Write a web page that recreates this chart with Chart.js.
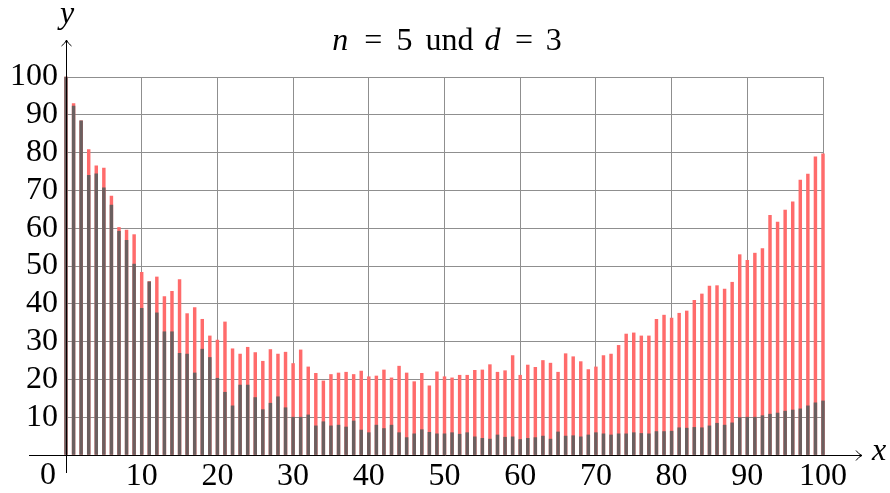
<!DOCTYPE html>
<html>
<head>
<meta charset="utf-8">
<script src="https://cdn.jsdelivr.net/npm/chart.js@4/dist/chart.umd.min.js"></script>
<style>
html,body{margin:0;padding:0;background:#fff;}
canvas{display:block;}
.pre{font-family:"Liberation Serif";position:absolute;left:-1000px;top:0;}
</style>
</head>
<body>
<span class="pre">0123 <i>nd</i></span>
<canvas id="c" width="890" height="493"></canvas>
<script>
const xValues = Array.from({length: 101}, (_, i) => i);
const redValues = [100,93.0,88.4,80.8,76.5,75.9,68.5,60.2,59.5,58.3,
48.3,45.9,47.1,41.9,43.3,46.4,37.4,39.0,35.9,31.5,
30.4,35.2,28.1,26.7,28.5,27.1,24.8,27.9,26.7,27.2,
24.2,27.8,23.3,21.6,19.6,21.3,21.7,21.9,21.3,22.2,
20.7,20.9,22.5,20.4,23.5,21.7,19.4,21.6,18.3,22.0,
20.7,20.4,21.1,21.1,22.4,22.5,23.9,21.9,22.3,26.3,
21.1,23.8,23.2,25.0,24.3,21.9,26.8,26.0,24.7,22.6,
23.3,26.3,26.7,29.0,32.0,32.3,31.5,31.5,35.9,37.0,
36.2,37.5,38.1,40.9,42.6,44.7,44.8,43.9,45.7,53.0,
51.5,53.4,54.6,63.4,61.6,64.8,67.0,72.7,74.3,78.9,
79.7];
const darkValues = [100,92.3,88.4,74.0,74.4,70.7,66.1,59.2,56.8,50.5,
38.8,45.8,37.6,32.6,32.6,26.9,26.7,21.7,28.0,25.8,
20.3,16.6,13.0,18.5,18.5,15.2,12.0,13.7,15.4,12.5,
10.0,10.0,10.6,7.7,8.8,7.7,7.9,7.4,9.0,6.6,
5.9,7.9,7.0,7.9,5.9,4.6,5.6,6.7,6.0,5.6,
5.6,5.9,5.5,5.9,4.8,4.4,4.2,5.3,4.7,4.8,
4.1,4.4,4.6,5.0,4.2,6.1,5.0,5.1,4.8,5.3,
5.9,5.6,5.3,5.6,5.6,5.9,5.7,5.6,6.2,6.2,
6.3,7.2,7.1,7.3,7.2,7.7,8.4,7.9,8.5,9.9,
10.0,10.0,10.4,10.8,11.1,11.6,11.9,12.2,13.0,13.8,
14.3];
const xTicks = [10,20,30,40,50,60,70,80,90,100];
const yTicks = [10,20,30,40,50,60,70,80,90,100];
// [text, italic, extra gap after (in em)]
const titleParts = [['n', true, 0.5], ['=', false, 0.45], ['5', false, 0.4], ['und', false, 0.35], ['d', true, 0.45], ['=', false, 0.4], ['3', false, 0]];

const FONT = "'Liberation Serif'";
const FS = 32;

const decor = {
  id: 'decor',
  afterDraw(chart) {
    const ctx = chart.ctx;
    const xs = chart.scales.x, ys = chart.scales.y;
    const x0 = Math.round(xs.getPixelForValue(0)) + 0.5;
    const y0 = Math.round(ys.getPixelForValue(0)) + 0.5;
    ctx.save();
    ctx.strokeStyle = '#000';
    ctx.lineWidth = 1;
    ctx.beginPath();
    ctx.moveTo(29, y0); ctx.lineTo(862, y0); ctx.stroke();
    ctx.beginPath();
    ctx.moveTo(856, y0 - 5); ctx.quadraticCurveTo(859, y0 - 1, 862, y0);
    ctx.quadraticCurveTo(859, y0 + 1, 856, y0 + 5); ctx.stroke();
    ctx.beginPath();
    ctx.moveTo(x0, 473); ctx.lineTo(x0, 40); ctx.stroke();
    ctx.beginPath();
    ctx.moveTo(x0 - 5, 46); ctx.quadraticCurveTo(x0 - 1, 43, x0, 40);
    ctx.quadraticCurveTo(x0 + 1, 43, x0 + 5, 46); ctx.stroke();
    ctx.fillStyle = '#000';
    ctx.textBaseline = 'middle';
    ctx.textAlign = 'center';
    ctx.font = 'italic ' + FS + 'px ' + FONT;
    ctx.fillText('y', 67, 15);
    ctx.fillText('x', 879, 452);
    ctx.font = FS + 'px ' + FONT;
    ctx.fillText('0', 48, 476);
    let total = 0;
    const widths = titleParts.map(([t, it, g]) => {
      ctx.font = (it ? 'italic ' : '') + FS + 'px ' + FONT;
      const w = ctx.measureText(t).width + g * FS; total += w; return w;
    });
    let tx = 447 - total / 2;
    ctx.textAlign = 'left';
    titleParts.forEach(([t, it], i) => {
      ctx.font = (it ? 'italic ' : '') + FS + 'px ' + FONT;
      ctx.fillText(t, tx, 42);
      tx += widths[i];
    });
    ctx.restore();
  }
};

function draw() {
  new Chart(document.getElementById('c'), {
    type: 'bar',
    data: {
      datasets: [
        {
          label: 'dark',
          data: xValues.map((x, i) => ({x: x, y: darkValues[i]})),
          backgroundColor: '#6b5f5f',
          barThickness: 2.8,
          grouped: false,
          clip: false
        },
        {
          label: 'red',
          data: xValues.map((x, i) => ({x: x, y: redValues[i]})),
          backgroundColor: '#ff6b6b',
          barThickness: 2.8,
          grouped: false,
          clip: false
        }
      ]
    },
    options: {
      responsive: false,
      devicePixelRatio: 1,
      animation: false,
      layout: {padding: {top: 77, right: 67, left: 0, bottom: 0}},
      plugins: {legend: {display: false}, tooltip: {enabled: false}, title: {display: false}},
      scales: {
        x: {
          type: 'linear', min: 0, max: 100, offset: false,
          afterBuildTicks(s) { s.ticks = [0].concat(xTicks).map(v => ({value: v})); },
          afterFit(s) { s.height = 38; },
          ticks: {
            callback: v => (v === 0 ? '' : String(v)),
            color: '#000', font: {family: FONT, size: FS}, padding: 2, maxRotation: 0, autoSkip: false
          },
          grid: {color: '#8f8f8f', lineWidth: 1, drawTicks: false, offset: false},
          border: {display: false}
        },
        y: {
          min: 0, max: 100,
          afterBuildTicks(s) { s.ticks = [0].concat(yTicks).map(v => ({value: v})); },
          afterFit(s) { s.width = 66; },
          ticks: {
            callback: v => (v === 0 ? '' : String(v)),
            color: '#000', font: {family: FONT, size: FS}, padding: 8, autoSkip: false
          },
          grid: {color: '#8f8f8f', lineWidth: 1, drawTicks: false},
          border: {display: false}
        }
      }
    },
    plugins: [decor]
  });
}
const loads = [
  document.fonts.load("32px 'Liberation Serif'"),
  document.fonts.load("italic 32px 'Liberation Serif'")
];
Promise.all(loads).then(draw, draw);
</script>
</body>
</html>
